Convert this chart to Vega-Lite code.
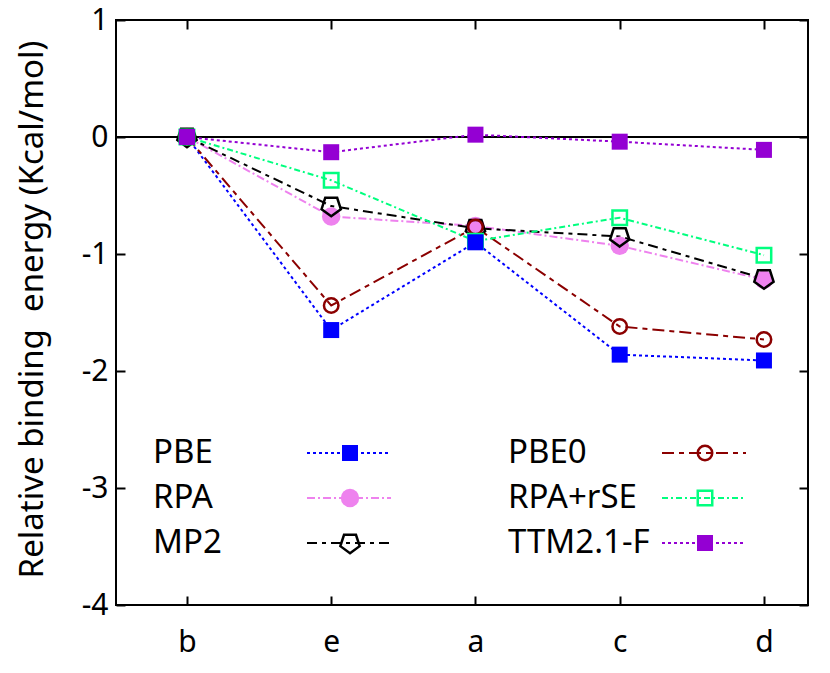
{
  "$schema": "https://vega.github.io/schema/vega-lite/v6.json",
  "width": 692,
  "height": 585,
  "autosize": "none",
  "padding": {"left": 116, "top": 20, "right": 22, "bottom": 68},
  "background": "white",
  "config": {
    "view": {"stroke": "black", "strokeWidth": 2},
    "font": "Noto Sans",
    "axis": {
      "grid": false,
      "domain": false,
      "labelFont": "Noto Sans",
      "labelFontSize": 30,
      "labelColor": "black",
      "tickColor": "black",
      "tickWidth": 2,
      "titleFont": "Noto Sans",
      "titleFontSize": 33,
      "titleFontWeight": "normal",
      "titleColor": "black"
    }
  },
  "datasets": {
    "energies": [
      {"conf": "b", "method": "PBE", "energy": 0},
      {"conf": "e", "method": "PBE", "energy": -1.65},
      {"conf": "a", "method": "PBE", "energy": -0.9},
      {"conf": "c", "method": "PBE", "energy": -1.86},
      {"conf": "d", "method": "PBE", "energy": -1.91},
      {"conf": "b", "method": "RPA", "energy": 0},
      {"conf": "e", "method": "RPA", "energy": -0.68},
      {"conf": "a", "method": "RPA", "energy": -0.76},
      {"conf": "c", "method": "RPA", "energy": -0.93},
      {"conf": "d", "method": "RPA", "energy": -1.22},
      {"conf": "b", "method": "MP2", "energy": 0},
      {"conf": "e", "method": "MP2", "energy": -0.59},
      {"conf": "a", "method": "MP2", "energy": -0.78},
      {"conf": "c", "method": "MP2", "energy": -0.85},
      {"conf": "d", "method": "MP2", "energy": -1.21},
      {"conf": "b", "method": "PBE0", "energy": 0},
      {"conf": "e", "method": "PBE0", "energy": -1.44},
      {"conf": "a", "method": "PBE0", "energy": -0.77},
      {"conf": "c", "method": "PBE0", "energy": -1.62},
      {"conf": "d", "method": "PBE0", "energy": -1.73},
      {"conf": "b", "method": "RPA+rSE", "energy": 0},
      {"conf": "e", "method": "RPA+rSE", "energy": -0.37},
      {"conf": "a", "method": "RPA+rSE", "energy": -0.89},
      {"conf": "c", "method": "RPA+rSE", "energy": -0.69},
      {"conf": "d", "method": "RPA+rSE", "energy": -1.01},
      {"conf": "b", "method": "TTM2.1-F", "energy": 0},
      {"conf": "e", "method": "TTM2.1-F", "energy": -0.13},
      {"conf": "a", "method": "TTM2.1-F", "energy": 0.02},
      {"conf": "c", "method": "TTM2.1-F", "energy": -0.04},
      {"conf": "d", "method": "TTM2.1-F", "energy": -0.11}
    ],
    "legend": [
      {"method": "PBE", "col": 0, "row": 0},
      {"method": "RPA", "col": 0, "row": 1},
      {"method": "MP2", "col": 0, "row": 2},
      {"method": "PBE0", "col": 1, "row": 0},
      {"method": "RPA+rSE", "col": 1, "row": 1},
      {"method": "TTM2.1-F", "col": 1, "row": 2}
    ]
  },
  "layer": [
    {
      "data": {"name": "energies"},
      "layer": [
        {
          "mark": {"type": "rule", "color": "black", "strokeWidth": 2},
          "encoding": {"y": {"datum": 0, "type": "quantitative", "axis": null}}
        },
        {
          "mark": {"type": "line", "strokeWidth": 2},
          "encoding": {
            "x": {
              "field": "conf", "type": "nominal",
              "scale": {"type": "point", "domain": ["b", "e", "a", "c", "d"], "padding": 0.3986, "align": 0.617},
              "axis": {"orient": "bottom", "title": null, "labelAngle": 0, "tickSize": -9, "labelPadding": 31}
            },
            "y": {
              "field": "energy", "type": "quantitative",
              "scale": {"domain": [-4, 1], "nice": false, "zero": false},
              "axis": {
                "orient": "left", "values": [-4, -3, -2, -1, 0, 1], "tickSize": -9, "labelPadding": 17,
                "labelExpr": "'' + datum.value",
                "title": "Relative binding\u00a0 energy (Kcal/mol)",
                "titleAngle": -90, "titleAlign": "center", "titleBaseline": "alphabetic",
                "titleX": -74, "titleY": 289
              }
            },
            "color": {
              "field": "method", "type": "nominal", "legend": null,
              "scale": {
                "domain": ["PBE", "RPA", "MP2", "PBE0", "RPA+rSE", "TTM2.1-F"],
                "range": ["#0000ff", "#ee82ee", "#000000", "#8b0000", "#00ff7f", "#9400d3"]
              }
            },
            "strokeDash": {
              "field": "method", "type": "nominal", "legend": null,
              "scale": {
                "domain": ["PBE", "RPA", "MP2", "PBE0", "RPA+rSE", "TTM2.1-F"],
                "range": [[3, 3], [8, 3, 2, 3], [10, 5, 4, 5], [12, 5, 5, 5], [6, 3, 2, 3], [3, 3]]
              }
            },
            "order": {"value": null}
          }
        },
        {
          "transform": [{"filter": {"field": "method", "equal": "RPA"}}],
          "mark": {"type": "point", "size": 340, "strokeWidth": 0, "opacity": 1},
          "encoding": {
            "x": {"field": "conf", "type": "nominal", "axis": null},
            "y": {"field": "energy", "type": "quantitative", "axis": null},
            "shape": {
              "field": "method", "type": "nominal", "legend": null,
              "scale": {
                "domain": ["PBE", "RPA", "MP2", "PBE0", "RPA+rSE", "TTM2.1-F"],
                "range": ["square", "circle", "M0,1.4L1.331,0.433L0.823,-1.133L-0.823,-1.133L-1.331,0.433Z", "circle", "square", "square"]
              }
            },
            "fill": {
              "field": "method", "type": "nominal", "legend": null,
              "scale": {
                "domain": ["PBE", "RPA", "MP2", "PBE0", "RPA+rSE", "TTM2.1-F"],
                "range": ["#0000ff", "#ee82ee", "transparent", "transparent", "transparent", "#9400d3"]
              }
            },
            "stroke": {
              "field": "method", "type": "nominal", "legend": null,
              "scale": {
                "domain": ["PBE", "RPA", "MP2", "PBE0", "RPA+rSE", "TTM2.1-F"],
                "range": ["#0000ff", "#ee82ee", "#000000", "#8b0000", "#00ff7f", "#9400d3"]
              }
            }
          }
        },
        {
          "transform": [{"filter": {"field": "method", "oneOf": ["MP2", "PBE0", "RPA+rSE"]}}],
          "mark": {"type": "point", "size": 210, "strokeWidth": 2.5, "opacity": 1},
          "encoding": {
            "x": {"field": "conf", "type": "nominal", "axis": null},
            "y": {"field": "energy", "type": "quantitative", "axis": null},
            "shape": {"field": "method", "type": "nominal", "legend": null},
            "fill": {"field": "method", "type": "nominal", "legend": null},
            "stroke": {"field": "method", "type": "nominal", "legend": null}
          }
        },
        {
          "transform": [{"filter": {"field": "method", "oneOf": ["PBE", "TTM2.1-F"]}}],
          "mark": {"type": "point", "size": 256, "strokeWidth": 0, "opacity": 1},
          "encoding": {
            "x": {
              "field": "conf", "type": "nominal",
              "axis": {"orient": "top", "title": null, "labels": false, "tickSize": -9}
            },
            "y": {
              "field": "energy", "type": "quantitative",
              "axis": {"orient": "right", "title": null, "labels": false, "tickSize": -9, "values": [-4, -3, -2, -1, 0, 1]}
            },
            "shape": {"field": "method", "type": "nominal", "legend": null},
            "fill": {"field": "method", "type": "nominal", "legend": null},
            "stroke": {"field": "method", "type": "nominal", "legend": null}
          }
        }
      ],
      "resolve": {"axis": {"x": "independent", "y": "independent"}}
    },
    {
      "data": {"name": "legend"},
      "layer": [
        {
          "mark": {"type": "text", "align": "left", "baseline": "middle", "fontSize": 33, "font": "Noto Sans", "color": "black"},
          "encoding": {
            "x": {"field": "col", "type": "quantitative", "scale": {"domain": [0, 1], "range": [37, 392], "nice": false, "zero": false}, "axis": null},
            "y": {"field": "row", "type": "quantitative", "scale": {"domain": [0, 2], "range": [433, 523], "nice": false, "zero": false}, "axis": null},
            "text": {"field": "method"}
          }
        },
        {
          "mark": {"type": "rule", "strokeWidth": 2, "xOffset": 154, "x2Offset": 238},
          "encoding": {
            "x": {"field": "col", "type": "quantitative", "axis": null},
            "x2": {"field": "col"},
            "y": {"field": "row", "type": "quantitative", "axis": null},
            "color": {"field": "method", "type": "nominal", "legend": null},
            "strokeDash": {"field": "method", "type": "nominal", "legend": null}
          }
        },
        {
          "transform": [{"filter": {"field": "method", "equal": "RPA"}}],
          "mark": {"type": "point", "size": 340, "strokeWidth": 0, "opacity": 1, "xOffset": 197},
          "encoding": {
            "x": {"field": "col", "type": "quantitative", "axis": null},
            "y": {"field": "row", "type": "quantitative", "axis": null},
            "shape": {"field": "method", "type": "nominal", "legend": null},
            "fill": {"field": "method", "type": "nominal", "legend": null},
            "stroke": {"field": "method", "type": "nominal", "legend": null}
          }
        },
        {
          "transform": [{"filter": {"field": "method", "oneOf": ["MP2", "PBE0", "RPA+rSE"]}}],
          "mark": {"type": "point", "size": 210, "strokeWidth": 2.5, "opacity": 1, "xOffset": 197},
          "encoding": {
            "x": {"field": "col", "type": "quantitative", "axis": null},
            "y": {"field": "row", "type": "quantitative", "axis": null},
            "shape": {"field": "method", "type": "nominal", "legend": null},
            "fill": {"field": "method", "type": "nominal", "legend": null},
            "stroke": {"field": "method", "type": "nominal", "legend": null}
          }
        },
        {
          "transform": [{"filter": {"field": "method", "oneOf": ["PBE", "TTM2.1-F"]}}],
          "mark": {"type": "point", "size": 256, "strokeWidth": 0, "opacity": 1, "xOffset": 197},
          "encoding": {
            "x": {"field": "col", "type": "quantitative", "axis": null},
            "y": {"field": "row", "type": "quantitative", "axis": null},
            "shape": {"field": "method", "type": "nominal", "legend": null},
            "fill": {"field": "method", "type": "nominal", "legend": null},
            "stroke": {"field": "method", "type": "nominal", "legend": null}
          }
        }
      ]
    }
  ],
  "resolve": {"scale": {"x": "independent", "y": "independent"}}
}
